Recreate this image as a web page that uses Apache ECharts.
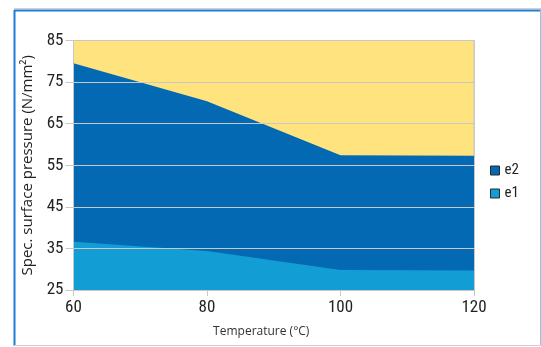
<!DOCTYPE html>
<html>
<head>
<meta charset="utf-8">
<script src="https://cdn.jsdelivr.net/npm/echarts@6/dist/echarts.min.js"></script>
<style>html,body{margin:0;padding:0;background:#fff}#c{width:541px;height:347px}</style>
</head>
<body>
<div id="c"></div>
<script>
var temperatures = [60, 80, 100, 120];
var e2Values = [79.5, 70.4, 57.4, 57.3];
var e1Values = [36.6, 34.4, 29.8, 29.7];
var seriesNames = ['e2', 'e1'];
var xTicks = [60, 80, 100, 120];
var yTicks = [25, 35, 45, 55, 65, 75, 85];

var FONT = "'Roboto Condensed', 'DejaVu Sans Condensed', sans-serif";
var chart = echarts.init(document.getElementById('c'), null, {renderer: 'canvas'});
function pairs(xs, ys) { return xs.map(function (x, i) { return [x, ys[i]]; }); }

chart.setOption({
  animation: false,
  backgroundColor: '#fff',
  grid: {left: 73.5, right: 67, top: 40.5, bottom: 57, show: true, backgroundColor: '#FFE37E', borderColor: '#c8c8c8', borderWidth: 1},
  legend: {
    data: seriesNames, orient: 'vertical', left: 485, top: 158, itemWidth: 9, itemHeight: 9, itemGap: 8,
    icon: 'rect', textStyle: {fontFamily: FONT, fontSize: 15, color: '#222'},
    itemStyle: {borderColor: '#2a2a2a', borderWidth: 1}
  },
  xAxis: {
    type: 'value', min: xTicks[0], max: xTicks[xTicks.length - 1], interval: 20,
    name: 'Temperature (°C)', nameLocation: 'middle', nameGap: 36,
    nameTextStyle: {fontFamily: 'Open Sans, sans-serif', fontSize: 12, color: '#333', padding: [0, 25, 0, 0]},
    axisLine: {lineStyle: {color: '#c8c8c8'}},
    axisTick: {show: true, length: 6, lineStyle: {color: '#c8c8c8'}},
    axisLabel: {fontFamily: FONT, fontSize: 17, color: '#222', margin: 9},
    splitLine: {show: false}, z: 3
  },
  yAxis: [{
    type: 'value', min: yTicks[0], max: yTicks[yTicks.length - 1], interval: 10,
    name: 'Spec. surface pressure (N/mm²)', nameLocation: 'middle', nameGap: 38, nameRotate: 90,
    nameTextStyle: {fontFamily: 'Open Sans, sans-serif', fontSize: 15, color: '#222'},
    axisLine: {show: true, lineStyle: {color: '#c8c8c8'}},
    axisTick: {show: true, length: 8, lineStyle: {color: '#c8c8c8'}},
    axisLabel: {fontFamily: FONT, fontSize: 17, color: '#222', margin: 10},
    splitLine: {show: true, lineStyle: {color: '#c8c8c8', width: 1}}, z: 3
  }, {
    type: 'value', position: 'right', min: yTicks[0], max: yTicks[yTicks.length - 1], interval: 10,
    axisLine: {show: true, lineStyle: {color: '#c8c8c8'}},
    axisTick: {show: false}, axisLabel: {show: false}, splitLine: {show: false}, z: 3
  }],
  series: [{
    name: seriesNames[0], type: 'line', data: pairs(temperatures, e2Values), symbol: 'none',
    lineStyle: {width: 0}, itemStyle: {color: '#0369B3'}, areaStyle: {color: '#0369B3', opacity: 1}, z: 1
  }, {
    name: seriesNames[1], type: 'line', data: pairs(temperatures, e1Values), symbol: 'none',
    lineStyle: {width: 0}, itemStyle: {color: '#129DD5'}, areaStyle: {color: '#129DD5', opacity: 1}, z: 2
  }],
  graphic: [
    {type: 'line', shape: {x1: 14, y1: 8.5, x2: 541, y2: 8.5}, style: {stroke: '#cfcfcf', lineWidth: 1}, silent: true},
    {type: 'line', shape: {x1: 14, y1: 10.5, x2: 541, y2: 10.5}, style: {stroke: '#1a7fd4', lineWidth: 2}, silent: true},
    {type: 'line', shape: {x1: 14.5, y1: 10, x2: 14.5, y2: 346}, style: {stroke: '#1a7fd4', lineWidth: 2}, silent: true},
    {type: 'line', shape: {x1: 540.5, y1: 10, x2: 540.5, y2: 346}, style: {stroke: '#8cc4ec', lineWidth: 1}, silent: true},
    {type: 'line', shape: {x1: 14, y1: 345.5, x2: 541, y2: 345.5}, style: {stroke: '#cfcfcf', lineWidth: 1}, silent: true}
  ]
});
</script>
</body>
</html>
